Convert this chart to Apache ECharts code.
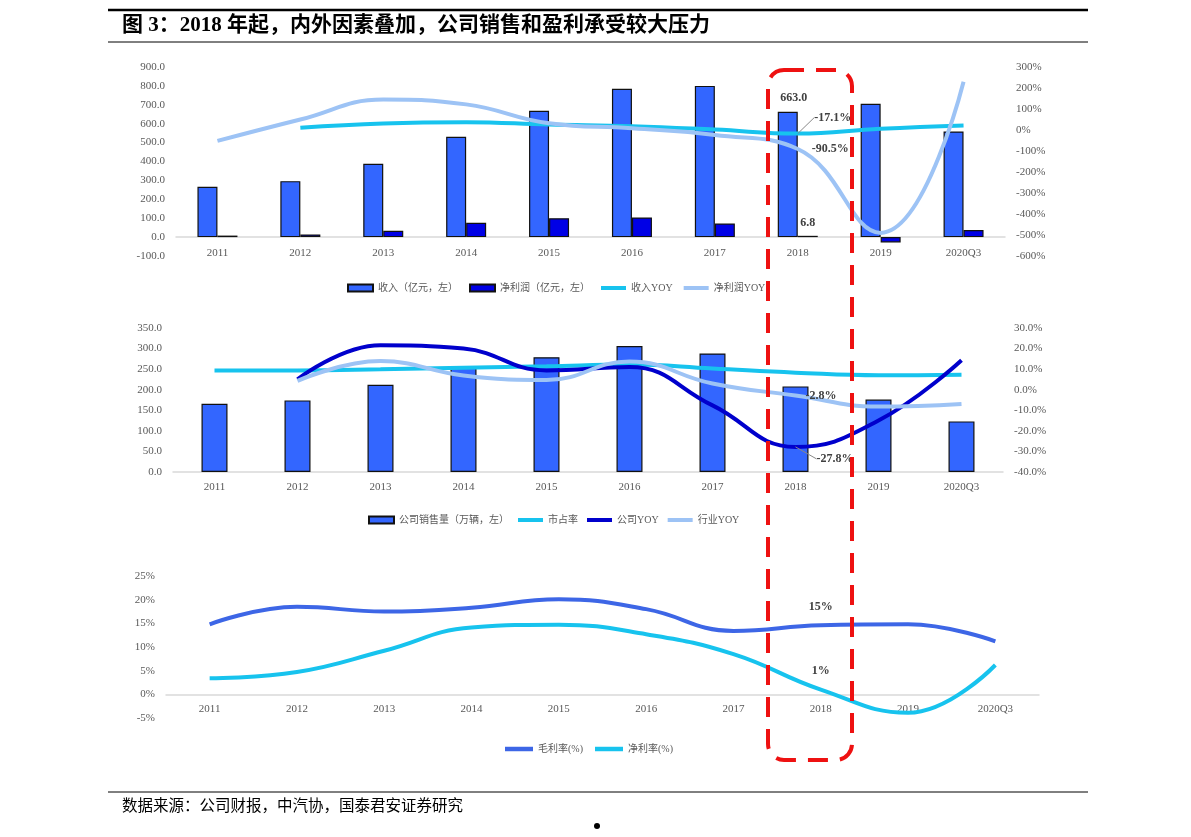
<!DOCTYPE html>
<html>
<head>
<meta charset="utf-8">
<script src="https://cdn.jsdelivr.net/npm/echarts@6/dist/echarts.min.js"></script>
<style>
html,body{margin:0;padding:0;background:#fff;}
#chart{width:1191px;height:837px;}
</style>
</head>
<body>
<div id="chart"></div>
<script>
// ---- data ----
const categories = ['2011','2012','2013','2014','2015','2016','2017','2018','2019','2020Q3'];
// chart 1 (亿元, %)
const revenue = [266, 296, 388, 531, 668, 785, 800, 663.0, 705, 559];
const netProfit = [8, 14, 33, 76, 100, 104, 72, 6.8, -28, 37];
const revenueYoy = [null, 11, 31, 37, 26, 18, 2, -17.1, 6.3, 22];
const netProfitYoy = [-52, 50, 145, 122, 32, 8, -24, -90.5, -490, 230];
// chart 2 (万辆, %)
const sales = [166, 174, 212, 255, 279, 306, 288, 208, 176, 123];
const marketShare = [9.4, 9.4, 9.9, 10.7, 11.4, 12.2, 10.3, 8.3, 7.0, 7.3];
const companyYoy = [null, 5, 21.6, 20, 9.4, 11, -7.6, -27.8, -15, 14.3];
const industryYoy = [null, 4.3, 13.9, 6.9, 4.7, 13.7, 3.0, -2.8, -8.2, -6.9];
// chart 3 (%)
const grossMargin = [14.8, 18.5, 17.5, 18.3, 20.1, 18.0, 13.4, 14.6, 14.8, 11.2];
const netMargin = [3.4, 4.7, 9.2, 14.1, 14.7, 12.7, 8.5, 1.0, -3.9, 6.2];
// tick settings
const y1Left = {min: -100, max: 900, interval: 100};
const y1Right = {min: -600, max: 300, interval: 100};
const y2Left = {min: 0, max: 350, interval: 50};
const y2Right = {min: -40, max: 30, interval: 10};
const y3 = {min: -5, max: 25, interval: 5};
const highlightIndex = 7; // 2018

// ---- styles ----
const FONT = "'Liberation Serif','Noto Sans CJK SC',serif";
const GRAY = '#595959';
const C_BAR = '#3366FF';
const C_NP = '#0000E6';
const C_CYAN = '#17C3EE';
const C_LIGHT = '#9DC3F5';
const C_DARK = '#0000CC';
const C_GROSS = '#3D66E6';
const lblStyle = {fontFamily: FONT, fontSize: 12, fontWeight: 'bold', color: '#404040'};
const LINE_ICON = 'path://M0,0L25,0L25,4L0,4Z';

function xAxis(gridIndex, onZeroIdx, margin) {
  return {
    type: 'category', gridIndex, data: categories,
    axisTick: {show: false},
    axisLine: {onZero: true, onZeroAxisIndex: onZeroIdx, lineStyle: {color: '#D9D9D9', width: 1.5}},
    axisLabel: {color: GRAY, fontSize: 11, fontFamily: FONT, margin}
  };
}
function yAxis(gridIndex, cfg, pos, fmt) {
  return Object.assign({
    type: 'value', gridIndex, position: pos,
    splitLine: {show: false}, axisLine: {show: false}, axisTick: {show: false},
    axisLabel: {color: GRAY, fontSize: 11, fontFamily: FONT, margin: 11, formatter: fmt}
  }, cfg);
}
function mark(arr, idx, label) {
  return arr.map((v, i) => i === idx ? {value: v, label: Object.assign({show: true}, lblStyle, label)} : v);
}
function lineSeries(name, data, color, xi, yi, extra) {
  return Object.assign({
    name, type: 'line', data, xAxisIndex: xi, yAxisIndex: yi,
    smooth: 0.45, symbol: 'circle', symbolSize: 0.01, showSymbol: true, connectNulls: false,
    lineStyle: {color, width: 4}, itemStyle: {color}, z: 3
  }, extra || {});
}
const legendText = {color: GRAY, fontSize: 10, fontFamily: FONT};
function legendItems(names, kinds) {
  return names.map((n, i) => kinds[i] === 'bar' ? {name: n, icon: 'rect'} : {name: n, icon: LINE_ICON});
}

const option = {
  animation: false,
  backgroundColor: '#fff',
  grid: [
    {left: 176, right: 186, top: 67, height: 189},
    {left: 173, right: 188, top: 328, height: 144},
    {left: 166, right: 152, top: 576, height: 142}
  ],
  xAxis: [xAxis(0, 0, -8), xAxis(1, 2, 10), xAxis(2, 4, -14)],
  yAxis: [
    yAxis(0, y1Left, 'left', v => v.toFixed(1)),
    yAxis(0, y1Right, 'right', v => v + '%'),
    yAxis(1, y2Left, 'left', v => v.toFixed(1)),
    yAxis(1, y2Right, 'right', v => v.toFixed(1) + '%'),
    yAxis(2, y3, 'left', v => v + '%')
  ],
  legend: [
    {left: 342, top: 278, itemWidth: 25, itemHeight: 7, itemGap: 11, textStyle: legendText,
     data: legendItems(['收入（亿元，左）','净利润（亿元，左）','收入YOY','净利润YOY'], ['bar','bar','line','line'])},
    {left: 363, top: 510, itemWidth: 25, itemHeight: 7, itemGap: 9, textStyle: legendText,
     data: legendItems(['公司销售量（万辆，左）','市占率','公司YOY','行业YOY'], ['bar','line','line','line'])},
    {left: 500, top: 739, itemWidth: 28, itemHeight: 7, itemGap: 12, textStyle: legendText,
     data: legendItems(['毛利率(%)','净利率(%)'], ['line','line'])}
  ],
  series: [
    {name: '收入（亿元，左）', type: 'bar', xAxisIndex: 0, yAxisIndex: 0, barWidth: 20, barGap: '0%',
     itemStyle: {color: C_BAR, borderColor: '#111', borderWidth: 1.2},
     data: mark(revenue, highlightIndex, {position: 'top', distance: 8, offset: [6, 0], formatter: p => p.value.toFixed(1)})},
    {name: '净利润（亿元，左）', type: 'bar', xAxisIndex: 0, yAxisIndex: 0, barWidth: 20, barGap: '0%',
     itemStyle: {color: C_NP, borderColor: '#111', borderWidth: 1.2},
     data: mark(netProfit, highlightIndex, {position: 'top', distance: 7, formatter: p => p.value.toFixed(1)})},
    lineSeries('收入YOY', mark(revenueYoy, highlightIndex, {position: 'top', formatter: p => p.value.toFixed(1) + '%'}), C_CYAN, 0, 1,
      {labelLayout: p => p.dataIndex === highlightIndex ? {dx: 35, dy: -5} : {}, labelLine: {show: true, lineStyle: {color: '#888', width: 1}}}),
    lineSeries('净利润YOY', mark(netProfitYoy, highlightIndex, {position: 'right', distance: 14, formatter: p => p.value.toFixed(1) + '%'}), C_LIGHT, 0, 1),

    {name: '公司销售量（万辆，左）', type: 'bar', xAxisIndex: 1, yAxisIndex: 2, barWidth: 26,
     itemStyle: {color: C_BAR, borderColor: '#111', borderWidth: 1.2}, data: sales},
    lineSeries('市占率', marketShare, C_CYAN, 1, 3),
    lineSeries('公司YOY', mark(companyYoy, highlightIndex, {position: 'right', distance: 5, formatter: p => p.value.toFixed(1) + '%'}), C_DARK, 1, 3,
      {labelLayout: p => p.dataIndex === highlightIndex ? {dx: 16, dy: 12} : {}, labelLine: {show: true, lineStyle: {color: '#888', width: 1}}}),
    lineSeries('行业YOY', mark(industryYoy, highlightIndex, {position: 'right', distance: 10, formatter: p => p.value.toFixed(1) + '%'}), C_LIGHT, 1, 3),

    lineSeries('毛利率(%)', mark(grossMargin, highlightIndex, {position: 'top', distance: 12, formatter: p => Math.round(p.value) + '%'}), C_GROSS, 2, 4),
    lineSeries('净利率(%)', mark(netMargin, highlightIndex, {position: 'top', distance: 13, formatter: p => Math.round(p.value) + '%'}), C_CYAN, 2, 4)
  ],
  graphic: [
    {type: 'line', shape: {x1: 108, y1: 10, x2: 1088, y2: 10}, style: {stroke: '#000', lineWidth: 2.5}},
    {type: 'line', shape: {x1: 108, y1: 42, x2: 1088, y2: 42}, style: {stroke: '#000', lineWidth: 1}},
    {type: 'text', left: 122, top: 15, style: {text: '图 3：2018 年起，内外因素叠加，公司销售和盈利承受较大压力', font: "bold 21px 'Liberation Serif','Noto Sans CJK SC',serif", fill: '#000'}},
    {type: 'line', shape: {x1: 108, y1: 792, x2: 1088, y2: 792}, style: {stroke: '#000', lineWidth: 1}},
    {type: 'text', left: 122, top: 799, style: {text: '数据来源：公司财报，中汽协，国泰君安证券研究', font: "15.5px 'Liberation Serif','Noto Sans CJK SC',serif", fill: '#000'}},
    {type: 'circle', shape: {cx: 597, cy: 826, r: 3}, style: {fill: '#000'}},
    {type: 'rect', z: 100, shape: {x: 768, y: 70, width: 84, height: 690, r: 16},
     style: {fill: 'none', stroke: '#EE1111', lineWidth: 4, lineDash: [20, 12]}}
  ]
};
const chart = echarts.init(document.getElementById('chart'), null, {renderer: 'canvas'});
chart.setOption(option);
</script>
</body>
</html>
